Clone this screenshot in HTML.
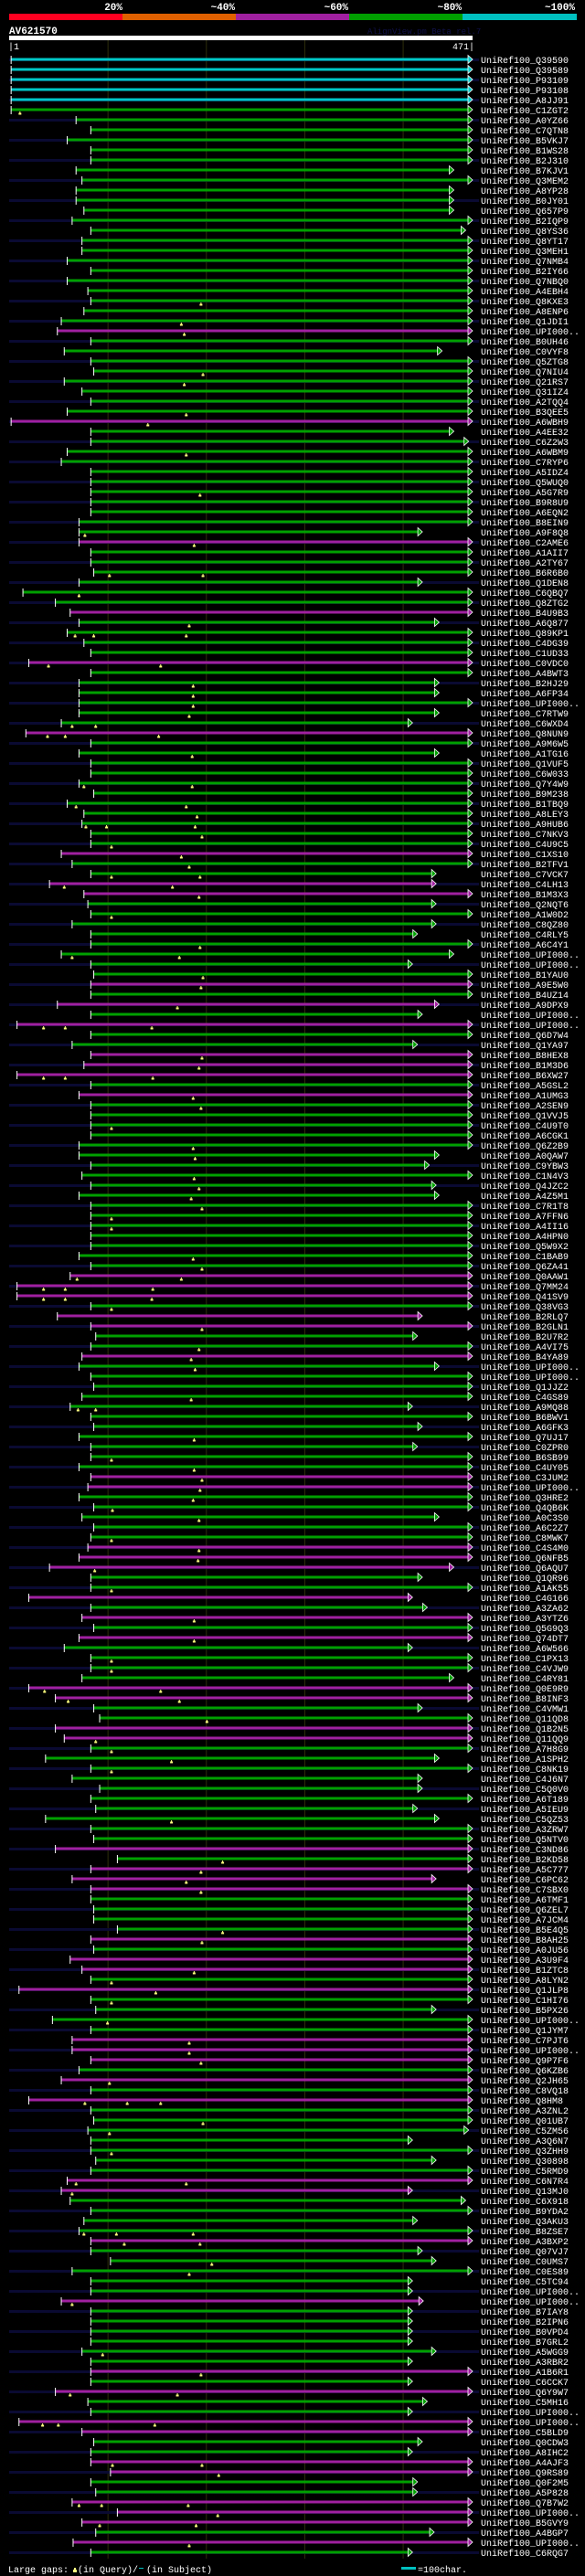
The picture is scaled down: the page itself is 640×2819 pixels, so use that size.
<!DOCTYPE html>
<html><head><meta charset="utf-8">
<style>
html,body{margin:0;padding:0;background:#000;}
svg{display:block;}
text{font-family:"Liberation Mono",monospace;}
</style></head>
<body>
<svg id="chart" width="640" height="2819" viewBox="0 0 640 2819" xmlns="http://www.w3.org/2000/svg">
  <rect x="0" y="0" width="640" height="2819" fill="#000"/>
  <g>
    <text x="134" y="11" text-anchor="end" fill="#fff" font-size="11" font-weight="bold">20%</text>
    <text x="257" y="11" text-anchor="end" fill="#fff" font-size="11" font-weight="bold">~40%</text>
    <text x="381" y="11" text-anchor="end" fill="#fff" font-size="11" font-weight="bold">~60%</text>
    <text x="505" y="11" text-anchor="end" fill="#fff" font-size="11" font-weight="bold">~80%</text>
    <text x="629" y="11" text-anchor="end" fill="#fff" font-size="11" font-weight="bold">~100%</text>
    <rect x="10" y="15" width="124" height="7" fill="#ff0020"/>
    <rect x="134" y="15" width="124" height="7" fill="#e06000"/>
    <rect x="258" y="15" width="124" height="7" fill="#a020a0"/>
    <rect x="382" y="15" width="124" height="7" fill="#00a000"/>
    <rect x="506" y="15" width="125" height="7" fill="#00c0c0"/>
  </g>
  <text x="10" y="37" fill="#fff" font-size="11" font-weight="bold">AV621570</text>
  <text x="402" y="37" fill="#10104a" font-size="9">AlignView.pm Beta rel.7</text>
  <rect x="10" y="39" width="507" height="5" fill="#fff"/>
  <text x="9" y="54" fill="#fff" font-size="10">|1</text>
  <text x="519" y="54" text-anchor="end" fill="#fff" font-size="10">471|</text>
  <g id="grid"></g>
  <g id="rows"></g>
  <g>
    <text x="9" y="2815" fill="#fff" font-size="10">Large gaps: </text>
    <rect x="81" y="2810" width="2" height="4" fill="#ffff80"/>
    <rect x="80" y="2812" width="4" height="3" fill="#ffff80"/>
    <text x="85" y="2815" fill="#fff" font-size="10">(in Query)/</text>
    <rect x="152" y="2810" width="5" height="1" fill="#00c0c0"/>
    <text x="160" y="2815" fill="#fff" font-size="10">(in Subject)</text>
    <rect x="439" y="2809" width="16" height="3" fill="#00c0c0"/>
    <text x="457" y="2815" fill="#fff" font-size="10">=100char.</text>
  </g>
</svg>
<script>
const QUERY_LEN = 471;
const gridTicks = [100, 200, 300, 400];
const labels = ["Q39590","Q39589","P93109","P93108","A8JJ91","C1ZGT2","A0YZ66","C7QTN8","B5VKJ7","B1WS28","B2J310","B7KJV1","Q3MEM2","A8YP28","B0JY01","Q657P9","B2IQP9","Q8YS36","Q8YT17","Q3MEH1","Q7NMB4","B2IY66","Q7NBQ0","A4EBH4","Q8KXE3","A8ENP6","Q1JDI1","UPI000..","B0UH46","C0VYF8","Q5ZTG8","Q7NIU4","Q21RS7","Q31IZ4","A2TQQ4","B3QEE5","A6WBH9","A4EE32","C6Z2W3","A6WBM9","C7RYP6","A5IDZ4","Q5WUQ0","A5G7R9","B9R8U9","A6EQN2","B8EIN9","A9F8Q8","C2AME6","A1AII7","A2TY67","B6R6B0","Q1DEN8","C6QBQ7","Q8ZTG2","B4U9B3","A6Q877","Q89KP1","C4DG39","C1UD33","C0VDC0","A4BWT3","B2HJ29","A6FP34","UPI000..","C7RTW9","C6WXD4","Q8NUN9","A9M6W5","A1TG16","Q1VUF5","C6W033","Q7Y4W9","B9M238","B1TBQ9","A8LEY3","A9HUB6","C7NKV3","C4U9C5","C1XS10","B2TFV1","C7VCK7","C4LH13","B1M3X3","Q2NQT6","A1W0D2","C8QZ80","C4RLY5","A6C4Y1","UPI000..","UPI000..","B1YAU0","A9E5W0","B4UZ14","A9DPX9","UPI000..","UPI000..","Q6D7W4","Q1YA97","B8HEX8","B1M3D6","B6XW27","A5GSL2","A1UMG3","A2SEN9","Q1VVJ5","C4U9T0","A6CGK1","Q6Z2B9","A0QAW7","C9YBW3","C1N4V3","Q4JZC2","A4Z5M1","C7R1T8","A7FFN6","A4II16","A4HPN0","Q5W9X2","C1BAB9","Q6ZA41","Q0AAW1","Q7MM24","Q41SV9","Q38VG3","B2RLQ7","B2GLN1","B2U7R2","A4VI75","B4YA89","UPI000..","UPI000..","Q1JJZ2","C4GS89","A9MQ88","B6BWV1","A6GFK3","Q7UJ17","C0ZPR0","B6SB99","C4UY05","C3JUM2","UPI000..","Q3HRE2","Q4QB6K","A0C3S0","A6C2Z7","C8MWK7","C4S4M0","Q6NFB5","Q6AQU7","Q1QR96","A1AK55","C4G166","A3ZA62","A3YTZ6","Q5G9Q3","Q74DT7","A6W566","C1PX13","C4VJW9","C4RY81","Q0E9R9","B8INF3","C4VMW1","Q11QD8","Q1B2N5","Q11QQ9","A7H8G9","A1SPH2","C8NK19","C4J6N7","C5Q0V0","A6T189","A5IEU9","C5QZ53","A3ZRW7","Q5NTV0","C3ND86","B2KD58","A5C777","C6PC62","C7SBX0","A6TMF1","Q6ZEL7","A7JCM4","B5E4Q5","B8AH25","A0JU56","A3U9F4","B1ZTC8","A8LYN2","Q1JLP8","C1HI76","B5PX26","UPI000..","Q1JYM7","C7PJT6","UPI000..","Q9P7F6","Q6KZB6","Q2JH65","C8VQ18","Q8HM8","A3ZNL2","Q01UB7","C5ZM56","A3Q6N7","Q3ZHH9","Q30898","C5RMD9","C6N7R4","Q13MJ0","C6X918","B9YDA2","Q3AKU3","B8ZSE7","A3BXP2","Q07VJ7","C0UMS7","C0ES89","C5TC94","UPI000..","UPI000..","B7IAY8","B2IPN6","B0VPD4","B7GRL2","A5WGG9","A3RBR2","A1B6R1","C6CCK7","Q6Y9W7","C5MH16","UPI000..","UPI000..","C5BLD9","Q0CDW3","A8IHC2","A4AJF3","Q9RS89","Q0F2M5","A5P828","Q7B7W2","UPI000..","B5GVY9","A4BGP7","UPI000..","C6RQG7"];
const starts = [2,2,2,2,2,2,68,83,59,83,83,68,74,68,68,76,64,83,74,74,59,83,59,80,83,76,53,49,83,56,83,86,
56,74,83,59,2,83,83,59,53,83,83,83,83,83,71,71,71,83,83,86,71,14,47,62,71,59,76,
83,20,83,71,71,71,71,53,17,83,71,83,83,71,86,59,76,74,83,83,53,64,83,41,76,80,
83,64,83,83,53,83,86,83,83,49,83,8,83,64,83,76,8,83,71,83,83,83,83,71,
71,83,74,83,71,83,83,83,83,83,71,83,62,8,8,83,49,83,88,83,74,71,83,
86,74,62,83,86,71,83,83,71,83,80,71,86,74,86,83,80,71,41,83,83,20,83,74,
86,71,56,83,83,74,20,47,86,92,47,56,83,37,83,64,92,83,88,37,83,86,
47,110,83,64,83,83,86,86,110,83,86,62,74,83,10,83,88,44,83,64,64,83,71,
53,83,20,83,86,80,83,83,88,83,59,53,62,83,76,71,83,83,103,64,83,83,
53,83,83,83,83,74,83,83,83,47,80,83,10,74,86,83,83,103,83,88,64,110,
74,88,65,83];
const endOverrides = {11:452,13:452,14:452,15:452,17:464,29:440,37:452,38:467,47:420,52:420,56:437,
62:437,63:437,65:437,66:410,69:437,81:434,82:434,84:434,86:434,87:415,89:452,90:410,94:437,95:420,98:415,
109:437,110:427,112:434,113:437,125:420,127:415,130:437,134:410,136:420,138:415,145:437,150:452,151:420,153:410,154:425,
158:410,161:452,164:420,169:437,171:420,172:420,174:415,175:437,181:434,194:434,
206:467,207:410,209:434,212:410,213:464,215:415,218:420,219:434,221:410,222:410,
223:421,224:410,225:410,226:410,227:410,228:434,229:410,231:410,233:425,234:410,237:420,238:410,241:415,242:415,246:432,248:410};
const magentaRows = [27,36,48,55,60,67,79,82,83,92,94,96,99,100,101,103,121,122,123,125,126,129,141,142,148,149,150,153,155,157,162,163,166,167,178,180,181,182,187,189,190,192,197,198,199,201,203,211,212,217,223,230,232,235,236,239,240,243,244,245,247];
const cyanRows = [0,1,2,3,4];
const queryGaps = {5:[11],24:[195],26:[175],27:[178],31:[197],32:[178],35:[180],36:[141],39:[180],43:[194],47:[77],48:[188],51:[102,197],53:[71],56:[183],57:[67,86,180],
60:[40,154],62:[187],63:[187],64:[187],65:[183],66:[64,88],67:[39,57,152],69:[186],72:[76,186],74:[68,180],75:[191],76:[78,99,189],77:[196],78:[104],79:[175],80:[183],81:[104,194],82:[56,166],83:[193],
85:[104],88:[194],89:[64,173],91:[197],92:[195],94:[171],96:[35,57,145],99:[196],100:[193],101:[35,57,146],103:[187],104:[195],106:[104],108:[187],
109:[189],111:[188],112:[193],113:[185],114:[196],115:[104],116:[104],119:[187],120:[196],121:[69,175],122:[35,57,146],123:[35,57,145],124:[104],126:[196],128:[193],129:[185],130:[189],
133:[185],134:[70,88],137:[188],139:[104],140:[188],141:[196],142:[194],143:[187],144:[105],145:[193],147:[104],148:[193],149:[192],150:[87],152:[104],155:[188],
157:[188],159:[104],160:[104],162:[36,154],163:[60,173],165:[201],167:[88],168:[104],169:[165],170:[104],175:[165],
179:[217],180:[195],181:[180],182:[195],186:[217],187:[196],190:[188],191:[104],192:[149],193:[104],195:[100],197:[183],198:[183],199:[195],
201:[102],203:[77,120,154],205:[197],206:[102],208:[104],211:[68,180],212:[64],216:[76,109,187],217:[117,194],219:[206],220:[183],
223:[64],228:[95],230:[195],232:[62,171],235:[34,50,148],239:[105,196],240:[213],243:[71,94,182],244:[212],245:[92,190],247:[183]};

const NS = "http://www.w3.org/2000/svg";
const X0 = 10, X1 = 517, ROW0 = 65, PITCH = 11;
function xScale(aa){ return X0 + aa * (X1 - X0) / QUERY_LEN; }
function yRow(i){ return ROW0 + i * PITCH; }
function mk(tag, attrs, parent){
  const el = document.createElementNS(NS, tag);
  for (const k in attrs) el.setAttribute(k, attrs[k]);
  parent.appendChild(el);
  return el;
}
const COLORS = {c:"#00c8c8", g:"#00a000", m:"#a020a0"};
const nRows = starts.length;
const lastY = yRow(nRows - 1);

const grid = document.getElementById("grid");
gridTicks.forEach(function(t){
  const gl = mk("line", {x1:xScale(t)+0.5, x2:xScale(t)+0.5, y1:44, y2:lastY+7, stroke:"#2e2e0c", "stroke-width":1}, grid);
  
  
});

const rows = document.getElementById("rows");
for (let i = 0; i < nRows; i++){
  const y = yRow(i);
  const g = mk("g", {}, rows);
  
  
  if (i % 2 === 0){
    const s = mk("rect", {x:10, y:y-1, width:514, height:3, fill:"#0a0a32"}, g);
    
    
  }
  const color = cyanRows.indexOf(i) >= 0 ? COLORS.c : (magentaRows.indexOf(i) >= 0 ? COLORS.m : COLORS.g);
  const sx = xScale(starts[i]);
  const end = endOverrides[i] !== undefined ? endOverrides[i] : QUERY_LEN;
  const tip = xScale(end);
  const base = tip - 5;
  const bar = mk("rect", {x:sx, y:y-1.5, width:Math.max(0, base - sx), height:3, fill:color}, g);
  
  
  const arrow = mk("polygon", {points:(base)+","+(y-4.5)+" "+tip+","+y+" "+(base)+","+(y+4.5), fill:color, stroke:"#fff", "stroke-width":0.8}, g);
  
  
  const tick = mk("rect", {x:sx-0.5, y:y-4, width:1, height:9, fill:"#fff"}, g);
  
  
  (queryGaps[i] || []).forEach(function(aa){
    const mx = xScale(aa);
    const m1 = mk("rect", {x:mx-0.5, y:y+2, width:1, height:2, fill:"#ffff80"}, g);
    
    
    const m2 = mk("rect", {x:mx-1.5, y:y+3.5, width:3, height:2, fill:"#ffff80"}, g);
    
    
  });
  const lab = mk("text", {x:526, y:y+4, fill:"#fff", "font-size":10}, g);
  lab.textContent = "UniRef100_" + (labels[i] || "");
  
  
}
</script>
</body></html>
